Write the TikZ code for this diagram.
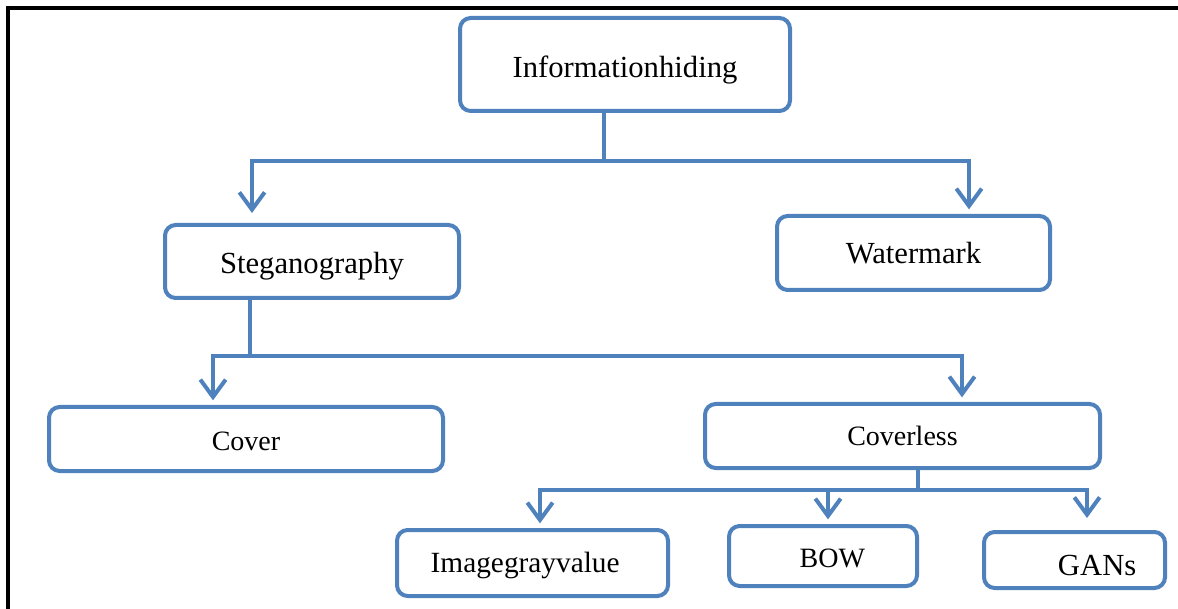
\documentclass[tikz,border=0pt]{standalone}
\usepackage{fontspec}
\setmainfont{Liberation Serif}
\usetikzlibrary{arrows.meta}

\definecolor{boxblue}{RGB}{79,129,189}

\tikzset{every picture/.style={line width=0.75pt}}
\tikzset{
  hbox/.style={draw=boxblue, line width=3pt, rounded corners=8pt, fill=white,
    inner sep=0pt, font=\fontsize{23}{27}\selectfont},
  smalltext/.style={font=\fontsize{21}{25}\selectfont},
  link/.style={draw=boxblue, line width=3pt},
  flow/.style={link, -{Straight Barb[length=13pt,width=19pt]}, shorten >=3.5pt},
}

\begin{document}
\begin{tikzpicture}[x=0.75pt,y=0.75pt,yscale=-1,xscale=1]

\useasboundingbox (0,0) rectangle (1178,609);

% frame
\draw [line width=3pt] (8,609) -- (8,8) -- (1178,8) ;

% boxes
\node [hbox, text height=25pt, minimum width=247.5pt, minimum height=69.75pt] (infohiding) at (625,64.5) {Informationhiding};
\node [hbox, text height=23.5pt, minimum width=220.5pt, minimum height=54.75pt] (stego) at (312,261.5) {Steganography};
\node [hbox, minimum width=204.75pt, minimum height=55.5pt] (watermark) at (913.5,253) {Watermark};
\node [hbox, smalltext, text height=17pt, minimum width=295.5pt, minimum height=48pt] (cover) at (246,439) {Cover};
\node [hbox, smalltext, minimum width=296.25pt, minimum height=48pt] (coverless) at (902.5,436) {Coverless};
\node [hbox, font=\fontsize{22}{26}\selectfont, text height=19.5pt, minimum width=203.25pt, minimum height=49.5pt] (grayvalue) at (532.5,563) {Imagegrayvalue\hspace*{11pt}};
\node [hbox, smalltext, text height=17pt, minimum width=141pt, minimum height=45pt] (bow) at (823,556) {\hspace*{14pt}BOW};
\node [hbox, text height=23pt, minimum width=135.75pt, minimum height=42pt] (gans) at (1074.5,560) {\hspace*{34pt}GANs};

% Informationhiding -> Steganography, Watermark
\coordinate (split1) at (604,161);
\coordinate (stegoin) at (252,161);
\coordinate (watermarkin) at (969,161);
\draw [link] (infohiding.south -| split1) -- (split1) ;
\draw [flow, shorten >=7.5pt] (split1) -| (stegoin |- stego.north) ;
\draw [flow] (split1) -| (watermarkin |- watermark.north) ;

% Steganography -> Cover, Coverless
\coordinate (split2) at (250,356);
\coordinate (coverin) at (213,356);
\coordinate (coverlessin) at (962,356);
\draw [link] (stego.south -| split2) -- (split2) ;
\draw [flow] (split2) -| (coverin |- cover.north) ;
\draw [flow] (split2) -| (coverlessin |- coverless.north) ;

% Coverless -> Imagegrayvalue, BOW, GANs
\coordinate (split3) at (918,490);
\coordinate (grayin) at (540,490);
\coordinate (bowin) at (828,490);
\coordinate (gansin) at (1087,490);
\draw [link] (coverless.south -| split3) -- (split3) ;
\draw [flow] (split3) -| (grayin |- grayvalue.north) ;
\draw [flow] (split3) -| (bowin |- bow.north) ;
\draw [flow, shorten >=9pt] (split3) -| (gansin |- gans.north) ;

\end{tikzpicture}
\end{document}
